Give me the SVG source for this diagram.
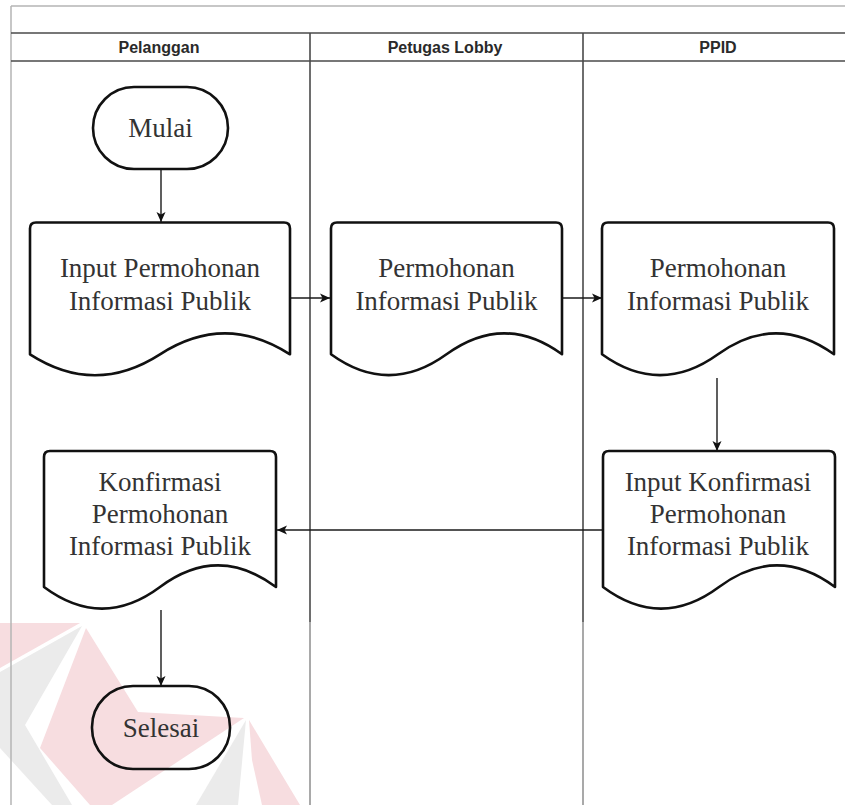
<svg xmlns="http://www.w3.org/2000/svg" width="845" height="805" viewBox="0 0 845 805">
  <defs>
    <marker id="arrow" viewBox="0 0 10 10" refX="10" refY="5" markerWidth="10" markerHeight="10" markerUnits="userSpaceOnUse" orient="auto">
      <path d="M0,0.5 L10,5 L0,9.5 L2.5,5 Z" fill="#111"/>
    </marker>
    <style>
      .frame-light { stroke: #b4b4b4; stroke-width: 1.5; fill: none; }
      .frame-dark { stroke: #4a4a4a; stroke-width: 1.6; fill: none; }
      .lane-fade { stroke: #8c8c8c; stroke-width: 1.5; fill: none; }
      .hdr { font-family: "Liberation Sans", Arial, sans-serif; font-size: 16px; font-weight: bold; fill: #2a2a2a; text-anchor: middle; }
      .shape { fill: none; stroke: #111; stroke-width: 2.6; stroke-linejoin: round; }
      .lbl { font-family: "Liberation Serif", "Times New Roman", serif; font-size: 27px; fill: #333; text-anchor: middle; }
      .edge { stroke: #1a1a1a; stroke-width: 1.4; fill: none; marker-end: url(#arrow); }
      .wm-pink { fill: #f7dde0; }
      .wm-grey { fill: #ebebeb; }
    </style>
  </defs>

  <rect x="0" y="0" width="845" height="805" fill="#ffffff"/>

  <!-- faded logo in the lower left corner -->
  <g id="watermark">
    <polygon class="wm-pink" points="0,623 80,623 0,668"/>
    <polygon class="wm-grey" points="82,626 0,672 0,748 52,805 72,805 25,725"/>
    <polygon class="wm-pink" points="86,628 138,712 244,718 112,805 90,805 40,748"/>
    <polygon class="wm-grey" points="246,720 196,805 238,805"/>
    <polygon class="wm-pink" points="249,720 300,805 262,805 252,760"/>
  </g>

  <!-- pool frame and lanes -->
  <g id="pool">
    <line class="frame-light" x1="11" y1="6" x2="845" y2="6"/>
    <line class="frame-light" x1="11" y1="6" x2="11" y2="805"/>
    <line class="frame-dark" x1="11" y1="33" x2="845" y2="33"/>
    <line class="frame-dark" x1="11" y1="61" x2="845" y2="61"/>
    <line class="frame-dark" x1="310" y1="33" x2="310" y2="622"/>
    <line class="lane-fade" x1="310" y1="622" x2="310" y2="805"/>
    <line class="frame-dark" x1="583" y1="33" x2="583" y2="622"/>
    <line class="lane-fade" x1="583" y1="622" x2="583" y2="805"/>
    <text class="hdr" x="159" y="53">Pelanggan</text>
    <text class="hdr" x="445" y="53">Petugas Lobby</text>
    <text class="hdr" x="718" y="53">PPID</text>
  </g>

  <!-- connectors -->
  <g id="connectors">
    <line class="edge" x1="161" y1="169" x2="161" y2="222"/>
    <line class="edge" x1="290" y1="298" x2="330" y2="298"/>
    <line class="edge" x1="562" y1="298" x2="602" y2="298"/>
    <line class="edge" x1="717" y1="378" x2="717" y2="451"/>
    <line class="edge" x1="603" y1="530" x2="277" y2="530"/>
    <line class="edge" x1="161" y1="610" x2="161" y2="686"/>
  </g>

  <g id="mulai">
    <rect class="shape" x="93" y="87" width="135" height="82" rx="41" ry="41"/>
    <text class="lbl" x="160.5" y="137">Mulai</text>
  </g>

  <g id="input-permohonan">
    <path class="shape" d="M30,228.5 Q30,222.5 36,222.5 H284 Q290,222.5 290,228.5 V354.3 Q225,312.4 160,354.3 Q95,396.1 30,354.3 Z"/>
    <text class="lbl" x="160" y="277">Input Permohonan</text>
    <text class="lbl" x="160" y="310">Informasi Publik</text>
  </g>

  <g id="permohonan-lobby">
    <path class="shape" d="M331,228.5 Q331,222.5 337,222.5 H556 Q562,222.5 562,228.5 V354.3 Q504.25,312.4 446.5,354.3 Q388.75,396.1 331,354.3 Z"/>
    <text class="lbl" x="446.5" y="277">Permohonan</text>
    <text class="lbl" x="446.5" y="310">Informasi Publik</text>
  </g>

  <g id="permohonan-ppid">
    <path class="shape" d="M602,228.5 Q602,222.5 608,222.5 H828 Q834,222.5 834,228.5 V354.3 Q776,312.4 718,354.3 Q660,396.1 602,354.3 Z"/>
    <text class="lbl" x="718" y="277">Permohonan</text>
    <text class="lbl" x="718" y="310">Informasi Publik</text>
  </g>

  <g id="input-konfirmasi">
    <path class="shape" d="M603,457 Q603,451 609,451 H829 Q835,451 835,457 V587 Q777,543.8 719,587 Q661,630.2 603,587 Z"/>
    <text class="lbl" x="718" y="491">Input Konfirmasi</text>
    <text class="lbl" x="718" y="523">Permohonan</text>
    <text class="lbl" x="718" y="555">Informasi Publik</text>
  </g>

  <g id="konfirmasi">
    <path class="shape" d="M44,457 Q44,451 50,451 H270 Q276,451 276,457 V587 Q218,543.8 160,587 Q102,630.2 44,587 Z"/>
    <text class="lbl" x="160" y="491">Konfirmasi</text>
    <text class="lbl" x="160" y="523">Permohonan</text>
    <text class="lbl" x="160" y="555">Informasi Publik</text>
  </g>

  <g id="selesai">
    <rect class="shape" x="92" y="686" width="138" height="83" rx="41" ry="41"/>
    <text class="lbl" x="161" y="737">Selesai</text>
  </g>
</svg>
